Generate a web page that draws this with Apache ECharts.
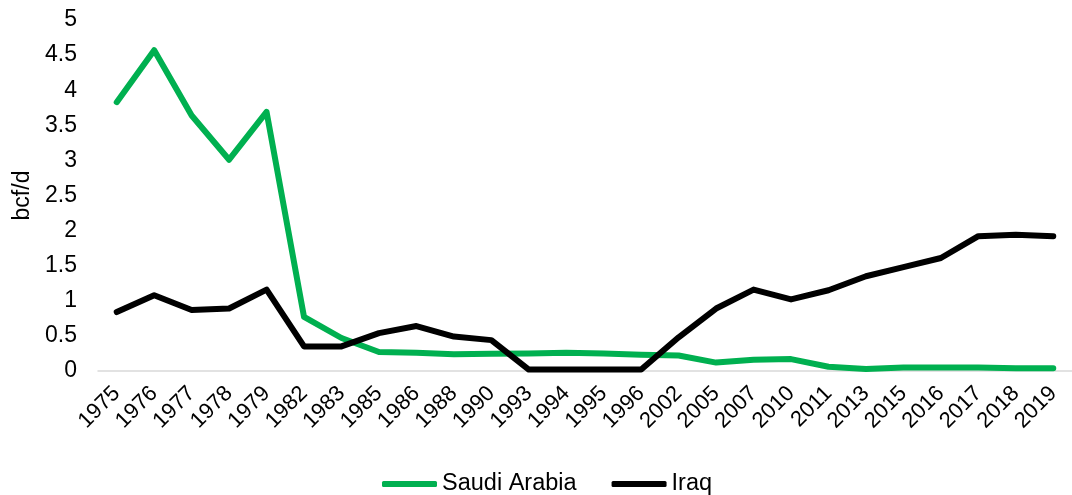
<!DOCTYPE html>
<html>
<head>
<meta charset="utf-8">
<script src="https://cdn.jsdelivr.net/npm/echarts@6/dist/echarts.min.js"></script>
<style>
  html, body { margin: 0; padding: 0; background: #fff; }
  #main { width: 1072px; height: 495px; }
</style>
</head>
<body>
<div id="main"></div>
<script>
var years = ['1975', '1976', '1977', '1978', '1979', '1982', '1983', '1985', '1986', '1988', '1990',
  '1993', '1994', '1995', '1996', '2002', '2005', '2007', '2010', '2011', '2013', '2015', '2016',
  '2017', '2018', '2019'];
var saudiArabia = [3.83, 4.57, 3.64, 3.01, 3.69, 0.77, 0.47, 0.27, 0.26, 0.24, 0.245,
  0.25, 0.26, 0.25, 0.23, 0.22, 0.12, 0.16, 0.17, 0.06, 0.03, 0.05, 0.05,
  0.05, 0.04, 0.04];
var iraq = [0.84, 1.08, 0.87, 0.89, 1.16, 0.35, 0.35, 0.54, 0.64, 0.49, 0.44,
  0.02, 0.02, 0.02, 0.02, 0.48, 0.89, 1.16, 1.02, 1.15, 1.35, 1.48, 1.61,
  1.92, 1.94, 1.92];

var font = 'Liberation Sans, Arial, sans-serif';
var chart = echarts.init(document.getElementById('main'));

chart.setOption({
  animation: false,
  textStyle: { fontFamily: font },
  grid: { left: 98, top: 20, height: 351, width: 988, containLabel: false },
  legend: {
    top: 467,
    left: 377,
    icon: 'roundRect',
    itemWidth: 55,
    itemHeight: 6,
    itemGap: 35,
    textStyle: { fontSize: 23.5, color: '#000', fontFamily: font },
    data: ['Saudi Arabia', 'Iraq']
  },
  xAxis: {
    type: 'category',
    data: years,
    boundaryGap: true,
    axisLine: { lineStyle: { color: '#d9d9d9', width: 1.5 } },
    axisTick: { show: false },
    axisLabel: { interval: 0, rotate: 45, fontSize: 22, color: '#000', margin: 19, fontFamily: font }
  },
  yAxis: {
    type: 'value',
    min: 0,
    max: 5,
    interval: 0.5,
    name: 'bcf/d',
    nameLocation: 'middle',
    nameGap: 64,
    nameTextStyle: { fontSize: 23, color: '#000', fontFamily: font },
    splitLine: { show: false },
    axisLine: { show: false },
    axisTick: { show: false },
    axisLabel: { fontSize: 23, color: '#000', margin: 21, fontFamily: font }
  },
  series: [
    {
      name: 'Saudi Arabia',
      type: 'line',
      data: saudiArabia,
      symbol: 'none',
      lineStyle: { color: '#00b050', width: 6, cap: 'round', join: 'round' },
      itemStyle: { color: '#00b050' }
    },
    {
      name: 'Iraq',
      type: 'line',
      data: iraq,
      symbol: 'none',
      lineStyle: { color: '#000000', width: 6, cap: 'round', join: 'round' },
      itemStyle: { color: '#000000' }
    }
  ]
});
</script>
</body>
</html>
